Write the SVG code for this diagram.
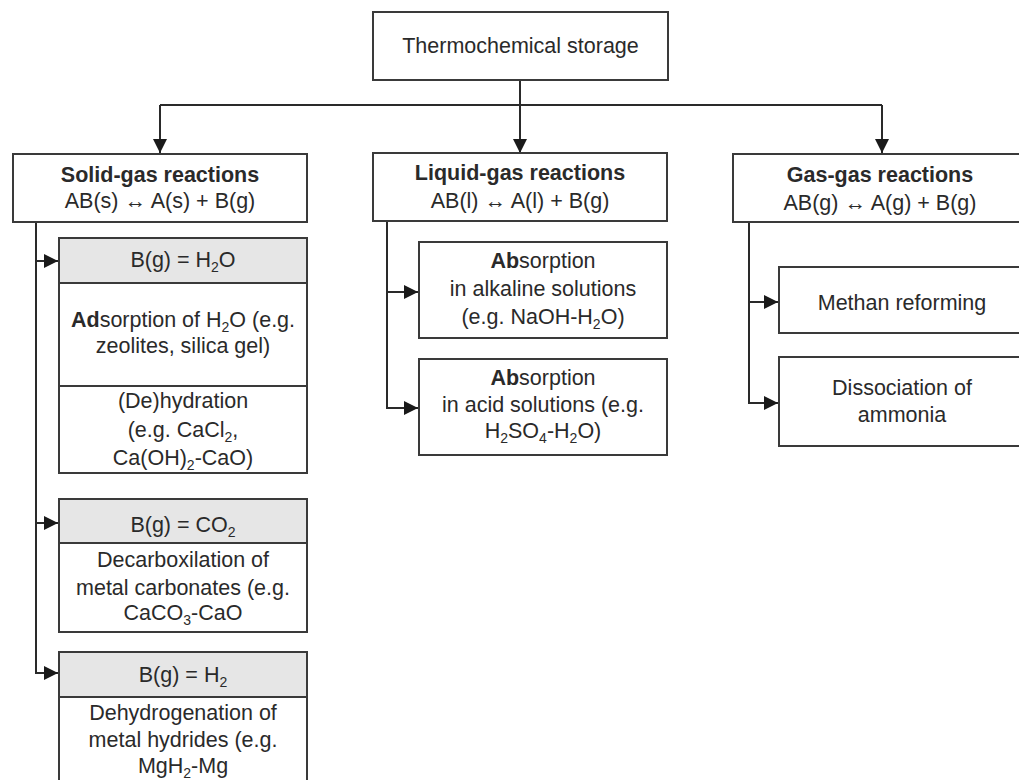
<svg xmlns="http://www.w3.org/2000/svg" width="1019" height="780" viewBox="0 0 1019 780">
  <style>
    .box { fill: #ffffff; stroke: #3a3a3a; stroke-width: 2; }
    .head { fill: #e6e6e6; stroke: #3a3a3a; stroke-width: 2; }
    .sep { stroke: #3a3a3a; stroke-width: 2; fill: none; }
    .wire { stroke: #2a2a2a; stroke-width: 2; fill: none; }
    .arr { stroke: #2a2a2a; stroke-width: 2; fill: none; marker-end: url(#tip); }
    text { font-family: "Liberation Sans", Arial, sans-serif; font-size: 21.5px; fill: #2a2a2a; text-anchor: middle; }
    .b { font-weight: bold; }
    .sub { font-size: 14px; }
  </style>
  <defs>
    <marker id="tip" viewBox="0 0 14 14" refX="14" refY="7" markerWidth="14" markerHeight="14" markerUnits="userSpaceOnUse" orient="auto">
      <path d="M0,0 L14,7 L0,14 z" fill="#1a1a1a"/>
    </marker>
  </defs>

  <!-- connectors -->
  <g id="connectors">
    <path class="arr" d="M520,80 V153"/>
    <path class="wire" d="M160,105 H882"/>
    <path class="arr" d="M160,105 V153"/>
    <path class="arr" d="M882,105 V153"/>

    <path class="wire" d="M36,222 V673"/>
    <path class="arr" d="M35,261 H58"/>
    <path class="arr" d="M35,523 H58"/>
    <path class="arr" d="M35,673 H58"/>

    <path class="wire" d="M387,221 V408"/>
    <path class="arr" d="M386,292 H418"/>
    <path class="arr" d="M386,408 H418"/>

    <path class="wire" d="M749,222 V403"/>
    <path class="arr" d="M748,302 H778"/>
    <path class="arr" d="M748,403 H778"/>
  </g>

  <!-- root -->
  <g id="thermochemical-storage">
    <rect class="box" x="373" y="12" width="295" height="68"/>
    <text x="520.5" y="53">Thermochemical storage</text>
  </g>

  <!-- reaction classes -->
  <g id="solid-gas">
    <rect class="box" x="13" y="154" width="294" height="68"/>
    <text class="b" x="160" y="182">Solid-gas reactions</text>
    <text x="160" y="208">AB(s) ↔ A(s) + B(g)</text>
  </g>
  <g id="liquid-gas">
    <rect class="box" x="373" y="153" width="294" height="68"/>
    <text class="b" x="520" y="180">Liquid-gas reactions</text>
    <text x="520" y="208">AB(l) ↔ A(l) + B(g)</text>
  </g>
  <g id="gas-gas">
    <rect class="box" x="733" y="154" width="300" height="68"/>
    <text class="b" x="880" y="182">Gas-gas reactions</text>
    <text x="880" y="210">AB(g) ↔ A(g) + B(g)</text>
  </g>

  <!-- solid-gas branches -->
  <g id="water">
    <rect class="box" x="59" y="238" width="248" height="235"/>
    <rect class="head" x="59" y="238" width="248" height="45"/>
    <path class="sep" d="M59,386 H307"/>
    <text x="183" y="267">B(g) = H<tspan class="sub" dy="5">2</tspan><tspan dy="-5">O</tspan></text>
    <text x="183" y="327"><tspan class="b">Ad</tspan>sorption of H<tspan class="sub" dy="5">2</tspan><tspan dy="-5">O (e.g.</tspan></text>
    <text x="183" y="353">zeolites, silica gel)</text>
    <text x="183" y="408">(De)hydration</text>
    <text x="183" y="437">(e.g. CaCl<tspan class="sub" dy="5">2</tspan><tspan dy="-5">,</tspan></text>
    <text x="183" y="465">Ca(OH)<tspan class="sub" dy="5">2</tspan><tspan dy="-5">-CaO)</tspan></text>
  </g>
  <g id="carbon-dioxide">
    <rect class="box" x="59" y="499" width="248" height="133"/>
    <rect class="head" x="59" y="499" width="248" height="44"/>
    <text x="183" y="532">B(g) = CO<tspan class="sub" dy="5">2</tspan></text>
    <text x="183" y="567">Decarboxilation of</text>
    <text x="183" y="595">metal carbonates (e.g.</text>
    <text x="183" y="620">CaCO<tspan class="sub" dy="5">3</tspan><tspan dy="-5">-CaO</tspan></text>
  </g>
  <g id="hydrogen">
    <rect class="box" x="59" y="652" width="248" height="140"/>
    <rect class="head" x="59" y="652" width="248" height="45"/>
    <text x="183" y="682">B(g) = H<tspan class="sub" dy="5">2</tspan></text>
    <text x="183" y="720">Dehydrogenation of</text>
    <text x="183" y="747">metal hydrides (e.g.</text>
    <text x="183" y="773">MgH<tspan class="sub" dy="5">2</tspan><tspan dy="-5">-Mg</tspan></text>
  </g>

  <!-- liquid-gas branches -->
  <g id="alkaline-absorption">
    <rect class="box" x="419" y="242" width="248" height="96"/>
    <text x="543" y="268"><tspan class="b">Ab</tspan>sorption</text>
    <text x="543" y="296">in alkaline solutions</text>
    <text x="543" y="324">(e.g. NaOH-H<tspan class="sub" dy="5">2</tspan><tspan dy="-5">O)</tspan></text>
  </g>
  <g id="acid-absorption">
    <rect class="box" x="419" y="359" width="248" height="96"/>
    <text x="543" y="385"><tspan class="b">Ab</tspan>sorption</text>
    <text x="543" y="412">in acid solutions (e.g.</text>
    <text x="543" y="438">H<tspan class="sub" dy="5">2</tspan><tspan dy="-5">SO</tspan><tspan class="sub" dy="5">4</tspan><tspan dy="-5">-H</tspan><tspan class="sub" dy="5">2</tspan><tspan dy="-5">O)</tspan></text>
  </g>

  <!-- gas-gas branches -->
  <g id="methane-reforming">
    <rect class="box" x="779" y="267" width="254" height="66"/>
    <text x="902" y="310">Methan reforming</text>
  </g>
  <g id="ammonia-dissociation">
    <rect class="box" x="779" y="357" width="254" height="89"/>
    <text x="902" y="395">Dissociation of</text>
    <text x="902" y="422">ammonia</text>
  </g>
</svg>
